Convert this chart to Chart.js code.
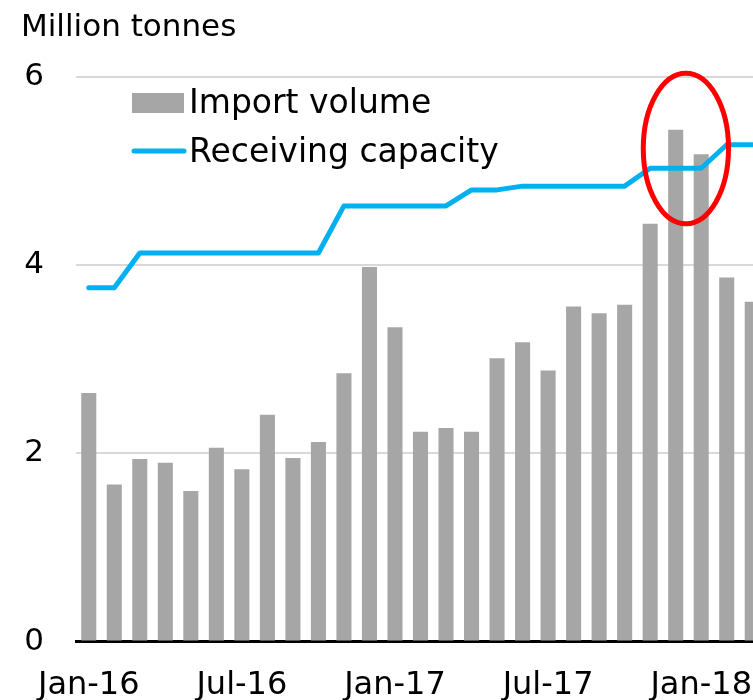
<!DOCTYPE html>
<html><head><meta charset="utf-8">
<script src="https://cdn.jsdelivr.net/npm/chart.js@4"></script>
<style>
html,body{margin:0;padding:0;overflow:hidden;background:#fff;width:753px;height:700px}
#wrap{position:absolute;left:0;top:0;width:771px;height:730px}
</style></head><body>
<div id="wrap"><canvas id="c"></canvas></div>
<script>
const months = ['Jan-16','Feb-16','Mar-16','Apr-16','May-16','Jun-16','Jul-16','Aug-16','Sep-16','Oct-16','Nov-16','Dec-16',
  'Jan-17','Feb-17','Mar-17','Apr-17','May-17','Jun-17','Jul-17','Aug-17','Sep-17','Oct-17','Nov-17','Dec-17',
  'Jan-18','Feb-18','Mar-18'];
const importVolume = [2.64,1.67,1.94,1.90,1.60,2.06,1.83,2.41,1.95,2.12,2.85,3.98,
  3.34,2.23,2.27,2.23,3.01,3.18,2.88,3.56,3.49,3.58,4.44,5.44,
  5.18,3.87,3.61];
const receivingCapacity = [3.76,3.76,4.13,4.13,4.13,4.13,4.13,4.13,4.13,4.13,4.63,4.63,
  4.63,4.63,4.63,4.80,4.80,4.84,4.84,4.84,4.84,4.84,5.03,5.03,
  5.03,5.28,5.28];
const xTickLabels = ['Jan-16','Jul-16','Jan-17','Jul-17','Jan-18'];
const yTicks = [0,2,4,6];
const unitLabel = 'Million tonnes';
// highlighted peak (category index, value) and half-extent in data units
const highlight = {index: 23.4, value: 5.24, halfCats: 1.67, halfValue: 0.80};

const FONT = 'DejaVu Sans';
const GREY = '#a6a6a6';
const BLUE = '#00b0f0';

const overlay = {
  id: 'overlay',
  afterDraw(chart) {
    const ctx = chart.ctx;
    const xs = chart.scales.x, ys = chart.scales.y;
    ctx.save();
    // unit label
    ctx.fillStyle = '#000';
    ctx.font = '31px "' + FONT + '"';
    ctx.textBaseline = 'alphabetic';
    ctx.textAlign = 'left';
    ctx.fillText(unitLabel, 21, 36);
    // legend
    const ds = chart.data.datasets;
    ctx.font = '33px "' + FONT + '"';
    ctx.fillStyle = GREY;
    ctx.fillRect(132, 93, 52, 20);
    ctx.strokeStyle = BLUE;
    ctx.lineWidth = 5;
    ctx.lineCap = 'round';
    ctx.beginPath();
    ctx.moveTo(134, 151); ctx.lineTo(184, 151);
    ctx.stroke();
    ctx.fillStyle = '#000';
    ctx.fillText(ds[1].label, 189, 113);
    ctx.fillText(ds[0].label, 189, 162);
    // red ellipse
    const cx = xs.getPixelForValue(highlight.index);
    const cy = ys.getPixelForValue(highlight.value);
    const rx = Math.abs(xs.getPixelForValue(highlight.index + highlight.halfCats) - cx);
    const ry = Math.abs(ys.getPixelForValue(highlight.value + highlight.halfValue) - cy);
    ctx.strokeStyle = '#ff0000';
    ctx.lineWidth = 5;
    ctx.beginPath();
    ctx.ellipse(cx, cy, rx, ry, 0, 0, Math.PI * 2);
    ctx.stroke();
    ctx.restore();
  }
};

new Chart(document.getElementById('c'), {
  data: {
    labels: months,
    datasets: [
      {type: 'line', label: 'Receiving capacity', data: receivingCapacity, borderColor: BLUE, borderWidth: 5,
       pointRadius: 0, tension: 0, borderCapStyle: 'round', borderJoinStyle: 'round', order: 0},
      {type: 'bar', label: 'Import volume', data: importVolume, backgroundColor: GREY, borderWidth: 0,
       barPercentage: 0.59, categoryPercentage: 1.0, order: 1}
    ]
  },
  options: {
    responsive: true, maintainAspectRatio: false, animation: false, devicePixelRatio: 1,
    events: [],
    layout: {padding: {top: 77, right: 6, left: 0, bottom: 0}},
    plugins: {legend: {display: false}, tooltip: {enabled: false}, title: {display: false}},
    scales: {
      x: {
        offset: true,
        grid: {display: false},
        border: {display: true, color: '#000', width: 3},
        ticks: {
          autoSkip: false, maxRotation: 0, minRotation: 0, padding: 17, color: '#000',
          font: {family: FONT, size: 32},
          callback: function(v, i) { const l = this.getLabelForValue(v); return xTickLabels.includes(l) ? l : ''; }
        },
        afterFit: s => { s.height = 730 - 641.5; }
      },
      y: {
        min: 0, max: 6,
        afterBuildTicks: s => { s.ticks = yTicks.map(v => ({value: v})); },
        grid: {color: '#d9d9d9', lineWidth: 2, drawTicks: false},
        border: {display: false},
        ticks: {padding: 32, color: '#000', font: {family: FONT, size: 31}},
        afterFit: s => { s.width = 76; }
      }
    }
  },
  plugins: [overlay]
});
</script>
</body></html>
